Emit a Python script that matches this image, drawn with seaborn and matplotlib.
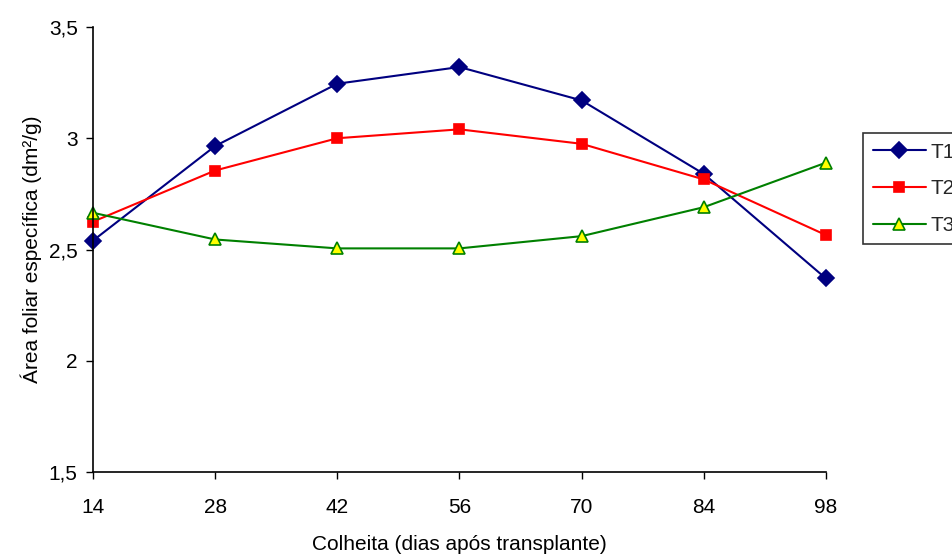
import matplotlib
matplotlib.use("Agg")
import matplotlib.pyplot as plt
import seaborn as sns
import pandas as pd
from matplotlib.ticker import FuncFormatter
from matplotlib.lines import Line2D

dias = [14, 28, 42, 56, 70, 84, 98]
t1 = [2.54, 2.965, 3.245, 3.32, 3.17, 2.84, 2.37]
t2 = [2.625, 2.855, 3.0, 3.04, 2.975, 2.815, 2.565]
t3 = [2.665, 2.545, 2.505, 2.505, 2.56, 2.69, 2.89]
series = ["T1", "T2", "T3"]

rows = []
for name, vals in zip(series, [t1, t2, t3]):
    for d, v in zip(dias, vals):
        rows.append({"dias": d, "valor": v, "trat": name})
df = pd.DataFrame(rows)

sns.set_theme(style="white")
plt.rcParams["font.family"] = ["Liberation Sans", "DejaVu Sans"]
FS = 15

fig = plt.figure(figsize=(9.53, 5.55), dpi=100)
ax = fig.add_axes([0.0976, 0.1495, 0.769, 0.8019])

palette = {"T1": "#000080", "T2": "#FF0000", "T3": "#008000"}
markers = {"T1": "D", "T2": "s", "T3": "^"}
sns.lineplot(data=df, x="dias", y="valor", hue="trat", style="trat",
             palette=palette, markers=markers, dashes=False, linewidth=1.5,
             markersize=8, ax=ax, legend=False)

face = {"T1": "#000080", "T2": "#FF0000", "T3": "#FFFF00"}
edge = {"T1": "#000080", "T2": "#FF0000", "T3": "#008000"}
msize = {"T1": 8.5, "T2": 7.5, "T3": 9}
for line, name in zip(ax.lines, series):
    line.set_markerfacecolor(face[name])
    line.set_markeredgecolor(edge[name])
    line.set_markeredgewidth(1.2)
    line.set_markersize(msize[name])
    line.set_clip_on(False)

ax.set_xlim(14, 98)
ax.set_ylim(1.5, 3.5)
ax.set_xticks(dias)
ax.set_yticks([1.5, 2, 2.5, 3, 3.5])
ax.yaxis.set_major_formatter(FuncFormatter(lambda v, p: f"{v:g}".replace(".", ",")))
ax.tick_params(axis="both", which="major", direction="out", length=5, width=1,
               colors="black", labelsize=FS, bottom=True, left=True)
ax.tick_params(axis="x", pad=14)
ax.tick_params(axis="y", pad=6)
for s in ["top", "right"]:
    ax.spines[s].set_visible(False)
for s in ["left", "bottom"]:
    ax.spines[s].set_color("black")
    ax.spines[s].set_linewidth(1.2)

ax.set_xlabel("Colheita (dias após transplante)", fontsize=FS, labelpad=13, color="black")
ax.set_ylabel("Área foliar específica (dm²/g)", fontsize=FS, labelpad=5, color="black")

handles = [Line2D([0], [0], color=edge[n], linewidth=1.5, marker=markers[n],
                  markerfacecolor=face[n], markeredgecolor=edge[n], markeredgewidth=1.2,
                  markersize=msize[n]) for n in series]
leg = fig.legend(handles, series, loc="upper left", bbox_to_anchor=(0.906, 0.760),
                 frameon=True, fancybox=False, edgecolor="black", fontsize=FS,
                 handlelength=2.55, borderpad=0.45, labelspacing=0.85,
                 handletextpad=0.2, borderaxespad=0)
leg.get_frame().set_linewidth(1.2)

fig.savefig("out.png", dpi=100)
